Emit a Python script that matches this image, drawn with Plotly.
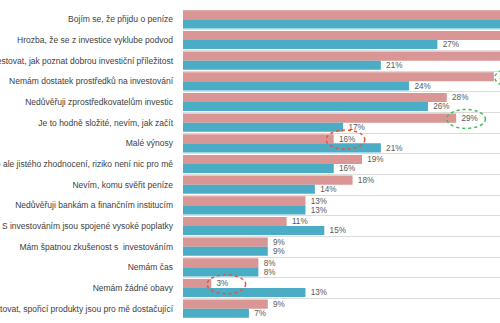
import plotly.graph_objects as go

# Důvody, proč lidé neinvestují
categories = [
    "Bojím se, že přijdu o peníze",
    "Hrozba, že se z investice vyklube podvod",
    "Nevím, jak investovat, jak poznat dobrou investiční příležitost",
    "Nemám dostatek prostředků na investování",
    "Nedůvěřuji zprostředkovatelům investic",
    "Je to hodně složité, nevím, jak začít",
    "Malé výnosy",
    "Chci málo ale jistého zhodnocení, riziko není nic pro mě",
    "Nevím, komu svěřit peníze",
    "Nedůvěřuji bankám a finančním institucím",
    "S investováním jsou spojené vysoké poplatky",
    "Mám špatnou zkušenost s  investováním",
    "Nemám čas",
    "Nemám žádné obavy",
    "Nechci investovat, spořicí produkty jsou pro mě dostačující",
]
series_a = [45, 37, 35, 33, 28, 29, 16, 19, 18, 13, 11, 9, 8, 3, 9]
series_b = [40, 27, 21, 24, 26, 17, 21, 16, 14, 13, 15, 9, 8, 13, 7]

PINK = "#D99694"
BLUE = "#4BACC6"
FONT = "Liberation Sans, Arial, sans-serif"

fig = go.Figure()
for name, vals, color in (("Řada A", series_a, PINK), ("Řada B", series_b, BLUE)):
    fig.add_trace(go.Bar(
        y=categories, x=vals, orientation="h", name=name,
        marker=dict(color=color, line=dict(width=0)),
        text=[f" {v}%" for v in vals], textposition="outside",
        textfont=dict(family=FONT, size=9, color="#595959"),
        cliponaxis=True, showlegend=False,
    ))

# zvýrazněné hodnoty: (index kategorie, barva, posun levého okraje elipsy)
highlights = [(5, "#3DBE5C", -1.0), (6, "#E8553A", -0.8),
              (13, "#E8553A", -0.45), (3, "#3DBE5C", 0.1)]
shapes = []
for idx, col, dx in highlights:
    v = series_a[idx]
    yc = idx - 0.18
    shapes.append(dict(
        type="circle", xref="x", yref="y",
        x0=v + dx, x1=v + dx + 4.1, y0=yc - 0.46, y1=yc + 0.46,
        line=dict(color=col, width=1.5, dash="dot"), layer="above",
    ))

fig.update_layout(
    width=500, height=323,
    margin=dict(l=183, r=0, t=9, b=4),
    barmode="group", bargap=0.12, bargroupgap=0.0,
    plot_bgcolor="white", paper_bgcolor="white",
    font=dict(family=FONT, size=9, color="#404040"),
    shapes=shapes,
    xaxis=dict(range=[0, 33.65], showgrid=False, zeroline=False,
               showticklabels=False, fixedrange=True),
    yaxis=dict(autorange="reversed", type="category", tickson="boundaries",
               showgrid=True, gridcolor="#DCDCDC", gridwidth=1,
               ticks="", ticklabelstandoff=9, automargin=False,
               tickfont=dict(family=FONT, size=8.5, color="#404040")),
)

fig.write_html("out.html")
